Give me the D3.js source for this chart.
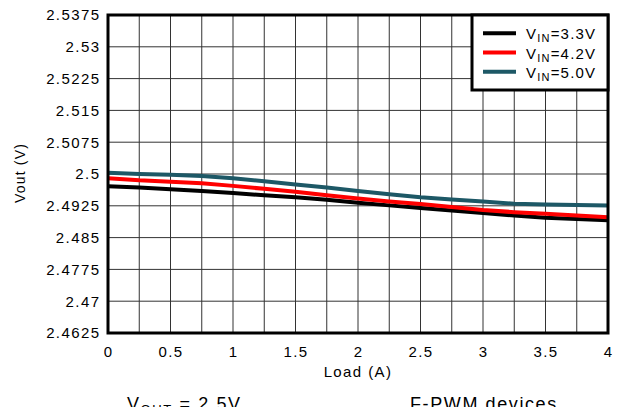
<!DOCTYPE html>
<html>
<head>
<meta charset="utf-8">
<script src="https://cdn.jsdelivr.net/npm/d3@7"></script>
<style>
  body { margin: 0; background: #fff; }
  svg { display: block; font-family: "Liberation Sans", Arial, sans-serif; }
</style>
</head>
<body>
<div class="chart"></div>
<script>
// load steps (A)
const loads = [0, 0.25, 0.5, 0.75, 1, 1.25, 1.5, 1.75, 2, 2.25, 2.5, 2.75, 3, 3.25, 3.5, 3.75, 4];

// Vout readings per input voltage
const vin33 = [2.4971, 2.4968, 2.4964, 2.4960, 2.4955, 2.4950, 2.4945, 2.4939, 2.4932, 2.4926, 2.4920, 2.4914, 2.4908, 2.4902, 2.4897, 2.4894, 2.4891];
const vin42 = [2.4990, 2.4985, 2.4982, 2.4978, 2.4972, 2.4965, 2.4958, 2.4950, 2.4942, 2.4935, 2.4929, 2.4922, 2.4915, 2.4910, 2.4906, 2.4902, 2.4898];
const vin50 = [2.5003, 2.5000, 2.4998, 2.4995, 2.4990, 2.4983, 2.4975, 2.4968, 2.4960, 2.4952, 2.4945, 2.4940, 2.4935, 2.4930, 2.4928, 2.4927, 2.4926];

const seriesNames = ["3.3V", "4.2V", "5.0V"];
const seriesColors = ["#000000", "#ff0000", "#1d5866"];

const xTicks = [0, 0.5, 1, 1.5, 2, 2.5, 3, 3.5, 4];
const xGrid = loads;
const yTicks = [2.4625, 2.47, 2.4775, 2.485, 2.4925, 2.5, 2.5075, 2.515, 2.5225, 2.53, 2.5375];

const width = 627, height = 407;
const plotLeft = 108, plotRight = 608, plotTop = 15, plotBottom = 333;

const svg = d3.select(".chart").append("svg")
  .attr("width", width)
  .attr("height", height);

const xScale = d3.scaleLinear().domain([0, 4]).range([plotLeft, plotRight]);
const yScale = d3.scaleLinear().domain([2.4625, 2.5375]).range([plotBottom, plotTop]);

// grid
svg.append("g")
  .selectAll("line")
  .data(xGrid)
  .join("line")
  .attr("x1", d => xScale(d)).attr("x2", d => xScale(d))
  .attr("y1", plotTop).attr("y2", plotBottom)
  .attr("stroke", "#333").attr("stroke-width", 1);

svg.append("g")
  .selectAll("line")
  .data(yTicks)
  .join("line")
  .attr("x1", plotLeft).attr("x2", plotRight)
  .attr("y1", d => yScale(d)).attr("y2", d => yScale(d))
  .attr("stroke", "#333").attr("stroke-width", 1);

// axes (labels only, the frame is drawn below)
const yAxis = d3.axisLeft(yScale).tickValues(yTicks).tickSize(0).tickPadding(9)
  .tickFormat(d => String(+d.toFixed(4)));
const xAxis = d3.axisBottom(xScale).tickValues(xTicks).tickSize(0).tickPadding(13)
  .tickFormat(d => String(d));

const gy = svg.append("g").attr("transform", "translate(" + plotLeft + ",0)").call(yAxis);
const gx = svg.append("g").attr("transform", "translate(0," + plotBottom + ")").call(xAxis);
[gx, gy].forEach(g => {
  g.select(".domain").remove();
  g.selectAll("text")
    .attr("fill", "#000")
    .style("font-family", "'Liberation Sans', Arial, sans-serif")
    .style("font-size", "15px")
    .style("letter-spacing", "1.4px");
});
gy.selectAll("text").attr("dx", "1.4px");

// series lines
const line = d3.line()
  .x((d, i) => xScale(loads[i]))
  .y(d => yScale(d));

[vin33, vin42, vin50].forEach((vals, i) => {
  svg.append("path")
    .datum(vals)
    .attr("fill", "none")
    .attr("stroke", seriesColors[i])
    .attr("stroke-width", 4)
    .attr("stroke-linejoin", "round")
    .attr("d", line);
});

// frame
svg.append("rect")
  .attr("x", plotLeft).attr("y", plotTop)
  .attr("width", plotRight - plotLeft).attr("height", plotBottom - plotTop)
  .attr("fill", "none").attr("stroke", "#000").attr("stroke-width", 3);

// legend
const lg = svg.append("g");
lg.append("rect")
  .attr("x", 472).attr("y", plotTop)
  .attr("width", plotRight - 472).attr("height", 90 - plotTop)
  .attr("fill", "#fff").attr("stroke", "#000").attr("stroke-width", 3);

seriesNames.forEach((name, i) => {
  const y = 33.3 + i * 19.2;
  lg.append("line")
    .attr("x1", 483).attr("x2", 516)
    .attr("y1", y).attr("y2", y)
    .attr("stroke", seriesColors[i]).attr("stroke-width", 4);
  const t = lg.append("text")
    .attr("x", 526).attr("y", y + 6)
    .style("font-size", "15px")
    .style("letter-spacing", "1.2px");
  t.append("tspan").text("V");
  t.append("tspan").attr("dy", 3).style("font-size", "11px").text("IN");
  t.append("tspan").attr("dy", -3).text("=" + name);
});

// axis titles
svg.append("text")
  .attr("x", xScale(2)).attr("y", 377)
  .attr("text-anchor", "middle")
  .style("font-size", "15px")
  .style("letter-spacing", "1.4px")
  .text("Load (A)");

svg.append("text")
  .attr("transform", "translate(25,173) rotate(-90)")
  .attr("text-anchor", "middle")
  .style("font-size", "14px")
  .style("letter-spacing", "1.2px")
  .text("Vout (V)");

// captions below the chart (cut by the window edge)
const cap = svg.append("text")
  .attr("x", 127).attr("y", 410)
  .style("font-size", "18px")
  .style("letter-spacing", "1.6px");
cap.append("tspan").text("V");
cap.append("tspan").attr("dy", 4).style("font-size", "13px").text("OUT");
cap.append("tspan").attr("dy", -4).text(" = 2.5V");

svg.append("text")
  .attr("x", 410).attr("y", 410)
  .style("font-size", "18px")
  .style("letter-spacing", "1.6px")
  .text("F-PWM devices");
</script>
</body>
</html>
